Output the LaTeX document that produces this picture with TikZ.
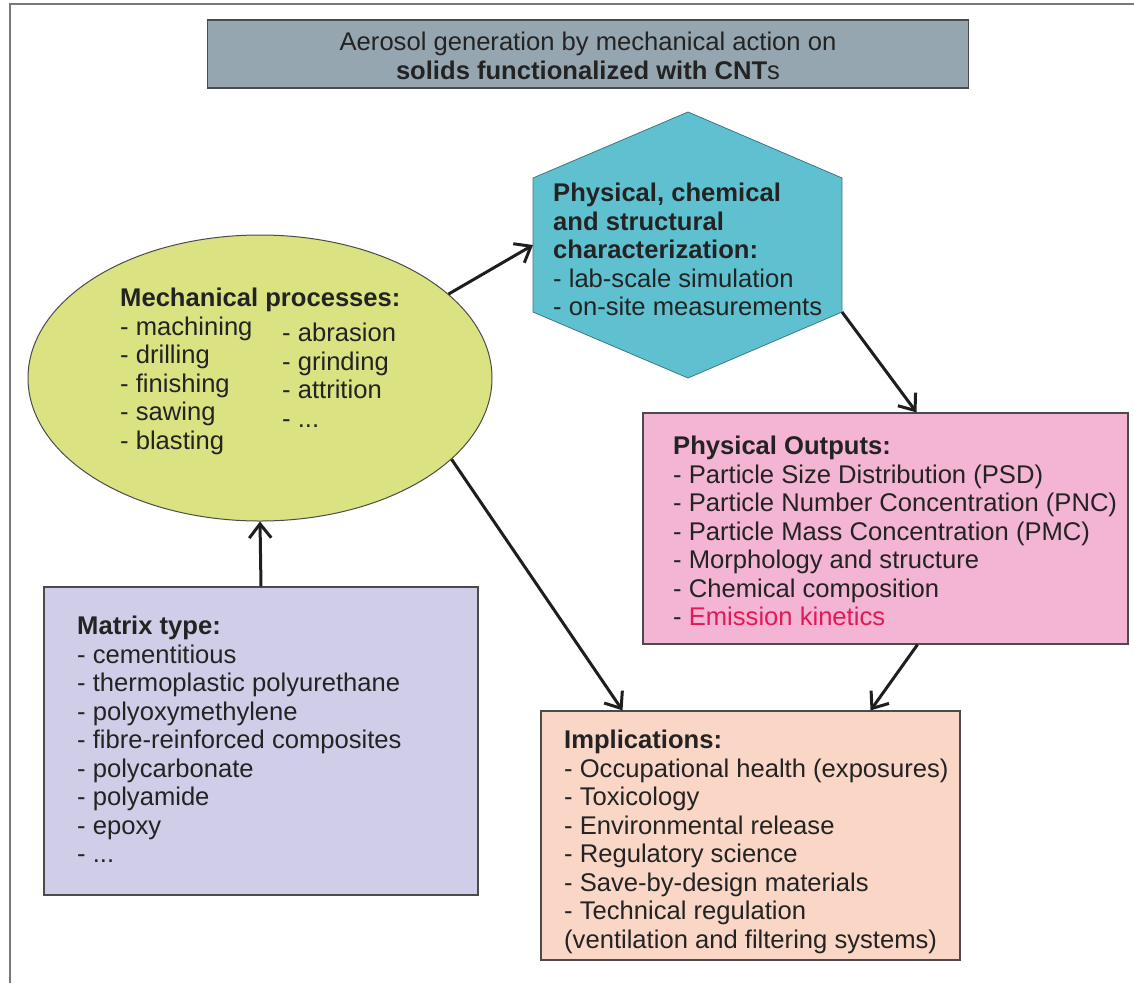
\documentclass[tikz,border=0pt]{standalone}
\usepackage{fontspec}
\setmainfont{Liberation Sans}
\usepackage{tikz}
\usepackage{xcolor}
\usetikzlibrary{shapes.geometric,arrows.meta}

\definecolor{framecol}{RGB}{120,120,120}
\definecolor{boxline}{RGB}{75,75,75}
\definecolor{txtcol}{RGB}{35,35,35}
\definecolor{arrcol}{RGB}{30,30,30}
\definecolor{titlefill}{RGB}{150,166,176}
\definecolor{mechfill}{RGB}{218,226,130}
\definecolor{hexfill}{RGB}{95,193,208}
\definecolor{hexline}{RGB}{60,120,130}
\definecolor{outfill}{RGB}{244,180,212}
\definecolor{matfill}{RGB}{208,205,232}
\definecolor{implfill}{RGB}{250,214,198}
\definecolor{emired}{RGB}{225,25,85}

\begin{document}
\begin{tikzpicture}[x=1pt,y=-1pt,
    txt/.style={anchor=north west,align=left,inner sep=0pt,text=txtcol,font=\fontsize{25.6}{28.5}\selectfont},
    box/.style={draw=boxline,line width=1.2pt,inner sep=0pt},
    arr/.style={-{Straight Barb[length=14pt,width=22pt]},line width=3pt,draw=arrcol}]
      \useasboundingbox (0,0) rectangle (1134,983);
      \draw [framecol,line width=1.5pt] (10,983) -- (10,4) -- (1134,4);
      % title
      \node [box,fill=titlefill,minimum width=761pt,minimum height=68pt] (title) at (588,54) {};
      \node [txt,anchor=center,align=center] (titletxt) at (588,56) {Aerosol generation by mechanical action on\\ \textbf{solids functionalized with CNT}s};
      % mechanical processes
      \node [ellipse,draw=boxline,line width=1pt,fill=mechfill,minimum width=464pt,minimum height=286pt,inner sep=0pt] (mech) at (260,378) {};
      \node [txt] (mechleft) at (120,288) {\textbf{Mechanical processes:}\\- machining\\- drilling\\- finishing\\- sawing\\- blasting};
      \node [txt] (mechright) at (282,323) {- abrasion\\- grinding\\- attrition\\- ...};
      % characterization
      \coordinate (hexN) at (688,112);
      \coordinate (hexW) at (533,245);
      \coordinate (hexSE) at (842,312);
      \draw [hexline,fill=hexfill,line width=0.8pt] (hexN) -- (842,178) -- (hexSE) -- (688,378) -- (533,312) -- (533,178) -- cycle;
      \node [txt] (charact) at (553,183) {\textbf{Physical, chemical}\\\textbf{and structural}\\\textbf{characterization:}\\- lab-scale simulation\\- on-site measurements};
      % physical outputs
      \node [box,fill=outfill,minimum width=485pt,minimum height=231pt] (outputs) at (885.5,528.5) {};
      \node [txt] (outtxt) at (673,436) {\textbf{Physical Outputs:}\\- Particle Size Distribution (PSD)\\- Particle Number Concentration (PNC)\\- Particle Mass Concentration (PMC)\\- Morphology and structure\\- Chemical composition\\- \textcolor{emired}{Emission kinetics}};
      % matrix type
      \node [box,fill=matfill,minimum width=434pt,minimum height=308pt] (matrix) at (261,741) {};
      \node [txt] (mattxt) at (77,616) {\textbf{Matrix type:}\\- cementitious\\- thermoplastic polyurethane\\- polyoxymethylene\\- fibre-reinforced composites\\- polycarbonate\\- polyamide\\- epoxy\\- ...};
      % implications
      \node [box,fill=implfill,minimum width=419pt,minimum height=249pt] (impl) at (750.5,835.5) {};
      \node [txt] (impltxt) at (564,730) {\textbf{Implications:}\\- Occupational health (exposures)\\- Toxicology\\- Environmental release\\- Regulatory science\\- Save-by-design materials\\- Technical regulation\\(ventilation and filtering systems)};
      % arrows
      \draw [arr] (matrix.north) -- (mech.south);
      \draw [arr] (mech.24) -- (hexW);
      \draw [arr] (hexSE) -- ([xshift=31pt]outputs.north);
      \draw [arr] (mech.-23) -- ([xshift=-128pt]impl.north);
      \draw [arr] ([xshift=32pt]outputs.south) -- ([xshift=120pt]impl.north);
    \end{tikzpicture}
\end{document}
